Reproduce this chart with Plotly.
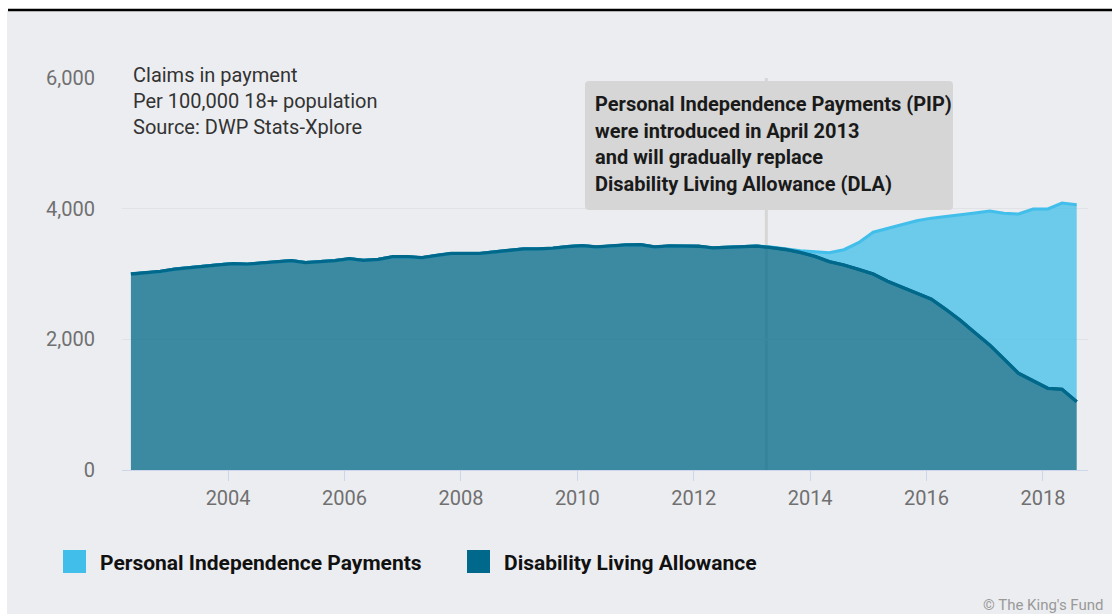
import plotly.graph_objects as go

# Quarterly reference dates (Feb / May / Aug / Nov)
quarters = [
    "2002-05-01", "2002-08-01", "2002-11-01",
    "2003-02-01", "2003-05-01", "2003-08-01", "2003-11-01",
    "2004-02-01", "2004-05-01", "2004-08-01", "2004-11-01",
    "2005-02-01", "2005-05-01", "2005-08-01", "2005-11-01",
    "2006-02-01", "2006-05-01", "2006-08-01", "2006-11-01",
    "2007-02-01", "2007-05-01", "2007-08-01", "2007-11-01",
    "2008-02-01", "2008-05-01", "2008-08-01", "2008-11-01",
    "2009-02-01", "2009-05-01", "2009-08-01", "2009-11-01",
    "2010-02-01", "2010-05-01", "2010-08-01", "2010-11-01",
    "2011-02-01", "2011-05-01", "2011-08-01", "2011-11-01",
    "2012-02-01", "2012-05-01", "2012-08-01", "2012-11-01",
    "2013-02-01", "2013-05-01", "2013-08-01", "2013-11-01",
    "2014-02-01", "2014-05-01", "2014-08-01", "2014-11-01",
    "2015-02-01", "2015-05-01", "2015-08-01", "2015-11-01",
    "2016-02-01", "2016-05-01", "2016-08-01", "2016-11-01",
    "2017-02-01", "2017-05-01", "2017-08-01", "2017-11-01",
    "2018-02-01", "2018-05-01", "2018-08-01",
]

# Disability Living Allowance claims in payment per 100,000 adults
dla = [
    3000, 3020, 3040,
    3075, 3100, 3120, 3140,
    3160, 3150, 3170, 3190,
    3205, 3175, 3190, 3205,
    3235, 3210, 3225, 3265,
    3265, 3250, 3285, 3315,
    3315, 3315, 3340, 3365,
    3385, 3385, 3395, 3420,
    3435, 3415, 3435, 3445,
    3450, 3415, 3430, 3428,
    3425, 3400, 3408, 3412,
    3428, 3405, 3375, 3330,
    3270, 3190, 3138, 3070,
    3000, 2890, 2796, 2714,
    2615, 2460, 2290, 2100,
    1913, 1700, 1480, 1365,
    1250, 1235, 1045,
]

# Personal Independence Payments, from its first quarter (May 2013)
pip_quarters = quarters[44:]
pip = [
    10, 12, 25,
    70, 136, 234, 410,
    640, 810, 964, 1102,
    1240, 1420, 1610, 1835,
    2051, 2229, 2438, 2630,
    2745, 2850, 3015,
]

series_names = ["Personal Independence Payments", "Disability Living Allowance"]
y_ticks = [0, 2000, 4000, 6000]
x_ticks = ["2004", "2006", "2008", "2010", "2012", "2014", "2016", "2018"]
pip_launch = "2013-04-01"

subtitle_lines = ["Claims in payment", "Per 100,000 18+ population", "Source: DWP Stats-Xplore"]
note_lines = [
    "Personal Independence Payments (PIP)",
    "were introduced in April 2013",
    "and will gradually replace",
    "Disability Living Allowance (DLA)",
]
credit = "© The King's Fund"

PIP_LINE = "#41beea"
PIP_FILL = "rgba(65,190,234,0.75)"
DLA_LINE = "#00688a"
DLA_FILL = "rgba(0,104,136,0.75)"
BG = "#ecedf0"
FONT = "Roboto"

W, H = 1112, 614
L, R, T, B = 122, 24, 78, 144


def px_x(p):
    return (p - L) / (W - L - R)


def px_y(p):
    return (H - B - p) / (H - T - B)


fig = go.Figure()

fig.add_trace(go.Scatter(
    x=quarters, y=dla, name=series_names[1], stackgroup="claims",
    mode="lines", line=dict(color=DLA_LINE, width=3), fillcolor=DLA_FILL,
    showlegend=False,
))
fig.add_trace(go.Scatter(
    x=pip_quarters, y=pip, name=series_names[0], stackgroup="claims",
    mode="lines", line=dict(color=PIP_LINE, width=3), fillcolor=PIP_FILL,
    showlegend=False,
))
# DLA outline again so it sits above the PIP edge
fig.add_trace(go.Scatter(
    x=quarters, y=dla, mode="lines", line=dict(color=DLA_LINE, width=3.3),
    showlegend=False, hoverinfo="skip",
))

shapes = []
# panel background and top rule
shapes.append(dict(type="rect", xref="paper", yref="paper",
                   x0=px_x(7), x1=px_x(W + 2), y0=px_y(H + 2), y1=px_y(11),
                   fillcolor=BG, line=dict(width=0), layer="below"))
shapes.append(dict(type="line", xref="paper", yref="paper",
                   x0=px_x(8), x1=px_x(W + 2), y0=px_y(10), y1=px_y(10),
                   line=dict(color="#000000", width=2.5)))
# PIP launch marker
shapes.append(dict(type="line", xref="x", yref="paper",
                   x0=pip_launch, x1=pip_launch, y0=0, y1=1,
                   line=dict(color="#d6d6d6", width=3), layer="below"))

# rounded note box
bx0, bx1, by0, by1, r = px_x(585), px_x(953), px_y(210), px_y(81), 4
rx, ry = r / (W - L - R), r / (H - T - B)
path = (f"M {bx0 + rx},{by0} L {bx1 - rx},{by0} Q {bx1},{by0} {bx1},{by0 + ry} "
        f"L {bx1},{by1 - ry} Q {bx1},{by1} {bx1 - rx},{by1} "
        f"L {bx0 + rx},{by1} Q {bx0},{by1} {bx0},{by1 - ry} "
        f"L {bx0},{by0 + ry} Q {bx0},{by0} {bx0 + rx},{by0} Z")
shapes.append(dict(type="path", xref="paper", yref="paper", path=path,
                   fillcolor="#d6d6d6", line=dict(width=0), layer="above"))

# legend swatches
legend_items = [(series_names[0], PIP_LINE, 63, 99), (series_names[1], DLA_LINE, 467, 503)]
for name, col, sx, tx in legend_items:
    shapes.append(dict(type="rect", xref="paper", yref="paper",
                       x0=px_x(sx), x1=px_x(sx + 23), y0=px_y(573), y1=px_y(550),
                       fillcolor=col, line=dict(width=0)))

annotations = []
for i, txt in enumerate(subtitle_lines):
    annotations.append(dict(xref="paper", yref="paper", x=px_x(131), y=px_y(75 + 26 * i),
                            xanchor="left", yanchor="middle", text=txt, showarrow=False,
                            font=dict(family=FONT, size=20, color="#333333")))
for i, txt in enumerate(note_lines):
    annotations.append(dict(xref="paper", yref="paper", x=px_x(593), y=px_y(104 + 26.7 * i),
                            xanchor="left", yanchor="middle", text=txt, showarrow=False,
                            font=dict(family=FONT, size=20, color="#1a1a1a", weight=700)))
for name, col, sx, tx in legend_items:
    annotations.append(dict(xref="paper", yref="paper", x=px_x(tx - 1), y=px_y(563),
                            xanchor="left", yanchor="middle", text=name, showarrow=False,
                            font=dict(family=FONT, size=21, color="#111111", weight=700)))
annotations.append(dict(xref="paper", yref="paper", x=px_x(1106), y=px_y(605),
                        xanchor="right", yanchor="middle", text=credit, showarrow=False,
                        font=dict(family=FONT, size=15, color="#999999")))

fig.update_layout(
    width=W, height=H,
    margin=dict(l=L, r=R, t=T, b=B),
    paper_bgcolor="#ffffff",
    plot_bgcolor="rgba(0,0,0,0)",
    font=dict(family=FONT),
    shapes=shapes,
    annotations=annotations,
    hovermode="x unified",
    xaxis=dict(
        type="date",
        range=["2002-03-06", "2018-10-11"],
        tickvals=[f"{y}-01-01" for y in x_ticks],
        ticktext=x_ticks,
        showgrid=False, zeroline=False,
        showline=True, linecolor="#ccd6eb", linewidth=1,
        ticks="outside", ticklen=10, tickcolor="#ccd6eb", tickwidth=1,
        tickfont=dict(family=FONT, size=20, color="#707070"),
    ),
    yaxis=dict(
        range=[0, 6000],
        tickvals=y_ticks,
        tickformat=",",
        showgrid=True, gridcolor="#e1e2e5", gridwidth=1,
        zeroline=False, showline=False,
        ticklabelstandoff=26,
        tickfont=dict(family=FONT, size=20, color="#707070"),
    ),
)

fig.write_html("out.html")
